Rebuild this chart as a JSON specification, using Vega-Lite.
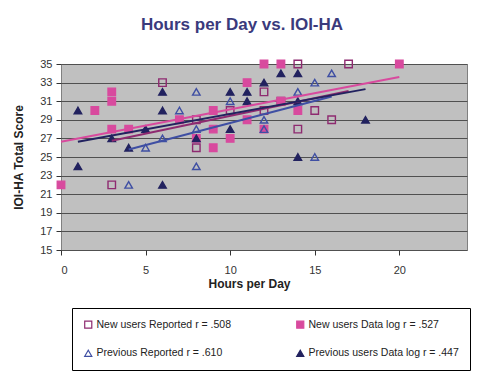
{
  "$schema": "https://vega.github.io/schema/vega-lite/v6.json",
  "width": 406,
  "height": 186,
  "autosize": {"type": "none"},
  "padding": {"left": 61, "top": 64, "right": 33, "bottom": 133},
  "background": "white",
  "title": {
    "text": "Hours per Day vs. IOI-HA",
    "anchor": "middle",
    "frame": "group",
    "dx": -22,
    "offset": 23,
    "font": "Liberation Sans",
    "fontSize": 17,
    "fontWeight": "bold",
    "color": "#3a3a7c"
  },
  "config": {
    "view": {"fill": "#c0c0c0", "stroke": "#808080", "strokeWidth": 1},
    "axis": {"labelFont": "Liberation Sans", "titleFont": "Liberation Sans", "labelColor": "#333", "titleColor": "#222"},
    "legend": {"labelFont": "Liberation Sans"}
  },
  "datasets": {
    "points": [
      {"hours": 3, "score": 22, "series": "New users Reported r = .508"},
      {"hours": 6, "score": 33, "series": "New users Reported r = .508"},
      {"hours": 8, "score": 26, "series": "New users Reported r = .508"},
      {"hours": 8, "score": 29, "series": "New users Reported r = .508"},
      {"hours": 10, "score": 30, "series": "New users Reported r = .508"},
      {"hours": 12, "score": 32, "series": "New users Reported r = .508"},
      {"hours": 12, "score": 30, "series": "New users Reported r = .508"},
      {"hours": 13, "score": 31, "series": "New users Reported r = .508"},
      {"hours": 14, "score": 35, "series": "New users Reported r = .508"},
      {"hours": 14, "score": 28, "series": "New users Reported r = .508"},
      {"hours": 15, "score": 30, "series": "New users Reported r = .508"},
      {"hours": 16, "score": 29, "series": "New users Reported r = .508"},
      {"hours": 17, "score": 35, "series": "New users Reported r = .508"},
      {"hours": 0, "score": 22, "series": "New users Data log r = .527"},
      {"hours": 2, "score": 30, "series": "New users Data log r = .527"},
      {"hours": 3, "score": 32, "series": "New users Data log r = .527"},
      {"hours": 3, "score": 31, "series": "New users Data log r = .527"},
      {"hours": 3, "score": 28, "series": "New users Data log r = .527"},
      {"hours": 4, "score": 28, "series": "New users Data log r = .527"},
      {"hours": 7, "score": 29, "series": "New users Data log r = .527"},
      {"hours": 8, "score": 27, "series": "New users Data log r = .527"},
      {"hours": 9, "score": 30, "series": "New users Data log r = .527"},
      {"hours": 9, "score": 28, "series": "New users Data log r = .527"},
      {"hours": 9, "score": 26, "series": "New users Data log r = .527"},
      {"hours": 10, "score": 27, "series": "New users Data log r = .527"},
      {"hours": 11, "score": 33, "series": "New users Data log r = .527"},
      {"hours": 11, "score": 29, "series": "New users Data log r = .527"},
      {"hours": 12, "score": 35, "series": "New users Data log r = .527"},
      {"hours": 12, "score": 28, "series": "New users Data log r = .527"},
      {"hours": 13, "score": 35, "series": "New users Data log r = .527"},
      {"hours": 13, "score": 31, "series": "New users Data log r = .527"},
      {"hours": 14, "score": 30, "series": "New users Data log r = .527"},
      {"hours": 20, "score": 35, "series": "New users Data log r = .527"},
      {"hours": 4, "score": 22, "series": "Previous Reported r = .610"},
      {"hours": 5, "score": 26, "series": "Previous Reported r = .610"},
      {"hours": 6, "score": 27, "series": "Previous Reported r = .610"},
      {"hours": 7, "score": 30, "series": "Previous Reported r = .610"},
      {"hours": 8, "score": 32, "series": "Previous Reported r = .610"},
      {"hours": 8, "score": 28, "series": "Previous Reported r = .610"},
      {"hours": 8, "score": 24, "series": "Previous Reported r = .610"},
      {"hours": 10, "score": 31, "series": "Previous Reported r = .610"},
      {"hours": 12, "score": 28, "series": "Previous Reported r = .610"},
      {"hours": 12, "score": 29, "series": "Previous Reported r = .610"},
      {"hours": 14, "score": 32, "series": "Previous Reported r = .610"},
      {"hours": 15, "score": 33, "series": "Previous Reported r = .610"},
      {"hours": 16, "score": 34, "series": "Previous Reported r = .610"},
      {"hours": 15, "score": 25, "series": "Previous Reported r = .610"},
      {"hours": 1, "score": 30, "series": "Previous users Data log r = .447"},
      {"hours": 1, "score": 24, "series": "Previous users Data log r = .447"},
      {"hours": 3, "score": 27, "series": "Previous users Data log r = .447"},
      {"hours": 4, "score": 26, "series": "Previous users Data log r = .447"},
      {"hours": 5, "score": 28, "series": "Previous users Data log r = .447"},
      {"hours": 6, "score": 32, "series": "Previous users Data log r = .447"},
      {"hours": 6, "score": 30, "series": "Previous users Data log r = .447"},
      {"hours": 6, "score": 22, "series": "Previous users Data log r = .447"},
      {"hours": 8, "score": 27, "series": "Previous users Data log r = .447"},
      {"hours": 10, "score": 28, "series": "Previous users Data log r = .447"},
      {"hours": 10, "score": 32, "series": "Previous users Data log r = .447"},
      {"hours": 11, "score": 32, "series": "Previous users Data log r = .447"},
      {"hours": 11, "score": 31, "series": "Previous users Data log r = .447"},
      {"hours": 12, "score": 33, "series": "Previous users Data log r = .447"},
      {"hours": 13, "score": 34, "series": "Previous users Data log r = .447"},
      {"hours": 14, "score": 34, "series": "Previous users Data log r = .447"},
      {"hours": 14, "score": 31, "series": "Previous users Data log r = .447"},
      {"hours": 14, "score": 25, "series": "Previous users Data log r = .447"},
      {"hours": 18, "score": 29, "series": "Previous users Data log r = .447"}
    ],
    "trends": [
      {"hours": 3, "score": 26.75, "series": "New users Reported r = .508"},
      {"hours": 17, "score": 32.1, "series": "New users Reported r = .508"},
      {"hours": 0, "score": 26.65, "series": "New users Data log r = .527"},
      {"hours": 20, "score": 33.6, "series": "New users Data log r = .527"},
      {"hours": 4, "score": 25.8, "series": "Previous Reported r = .610"},
      {"hours": 16, "score": 31.5, "series": "Previous Reported r = .610"},
      {"hours": 1, "score": 26.65, "series": "Previous users Data log r = .447"},
      {"hours": 18, "score": 32.3, "series": "Previous users Data log r = .447"}
    ]
  },
  "encoding": {
    "x": {
      "field": "hours", "type": "quantitative",
      "scale": {"domain": [0, 24], "nice": false, "zero": false},
      "axis": {
        "values": [0, 5, 10, 15, 20], "grid": false, "title": "Hours per Day",
        "tickSize": 5, "tickColor": "#333", "domain": false,
        "labelFontSize": 11, "labelPadding": 9,
        "titleFontSize": 12, "titleFontWeight": "bold",
        "titleX": 188, "titleY": 28
      }
    },
    "y": {
      "field": "score", "type": "quantitative",
      "scale": {"domain": [15, 35], "nice": false, "zero": false},
      "axis": {
        "values": [15, 17, 19, 21, 23, 25, 27, 29, 31, 33, 35],
        "grid": true, "gridColor": "#505050", "gridWidth": 1.2,
        "title": "IOI-HA Total Score",
        "tickSize": 5, "tickColor": "#333", "domain": false,
        "labelFontSize": 11, "labelPadding": 4,
        "titleFontSize": 12, "titleFontWeight": "bold",
        "titleX": -36, "titleY": 93
      }
    }
  },
  "layer": [
    {
      "data": {"name": "points"},
      "mark": {"type": "point", "filled": true, "strokeWidth": 1.4, "opacity": 1, "size": 56},
      "encoding": {
        "shape": {
          "field": "series", "type": "nominal",
          "scale": {
            "domain": ["New users Reported r = .508", "Previous Reported r = .610", "New users Data log r = .527", "Previous users Data log r = .447"],
            "range": ["square", "triangle-up", "square", "triangle-up"]
          },
          "legend": {
            "title": null, "orient": "none", "legendX": 11, "legendY": 244,
            "columns": 2, "columnPadding": 62, "rowPadding": 16,
            "strokeColor": "#000", "fillColor": "white", "padding": 11,
            "labelFontSize": 10.5, "labelColor": "#222", "labelLimit": 300,
            "symbolSize": 50, "symbolStrokeWidth": 1.2, "labelOffset": 3
          }
        },
        "fill": {
          "field": "series", "type": "nominal",
          "scale": {
            "domain": ["New users Reported r = .508", "Previous Reported r = .610", "New users Data log r = .527", "Previous users Data log r = .447"],
            "range": ["transparent", "transparent", "#d84a9e", "#22225f"]
          }
        },
        "stroke": {
          "field": "series", "type": "nominal",
          "scale": {
            "domain": ["New users Reported r = .508", "Previous Reported r = .610", "New users Data log r = .527", "Previous users Data log r = .447"],
            "range": ["#8e2a70", "#3f4fa3", "#d84a9e", "#22225f"]
          }
        }
      }
    },
    {
      "data": {"name": "trends"},
      "mark": {"type": "line", "strokeWidth": 2},
      "encoding": {
        "stroke": {
          "field": "series", "type": "nominal",
          "scale": {
            "domain": ["New users Reported r = .508", "Previous Reported r = .610", "New users Data log r = .527", "Previous users Data log r = .447"],
            "range": ["#8e2a70", "#3f4fa3", "#d84a9e", "#22225f"]
          },
          "legend": null
        }
      }
    }
  ]
}
